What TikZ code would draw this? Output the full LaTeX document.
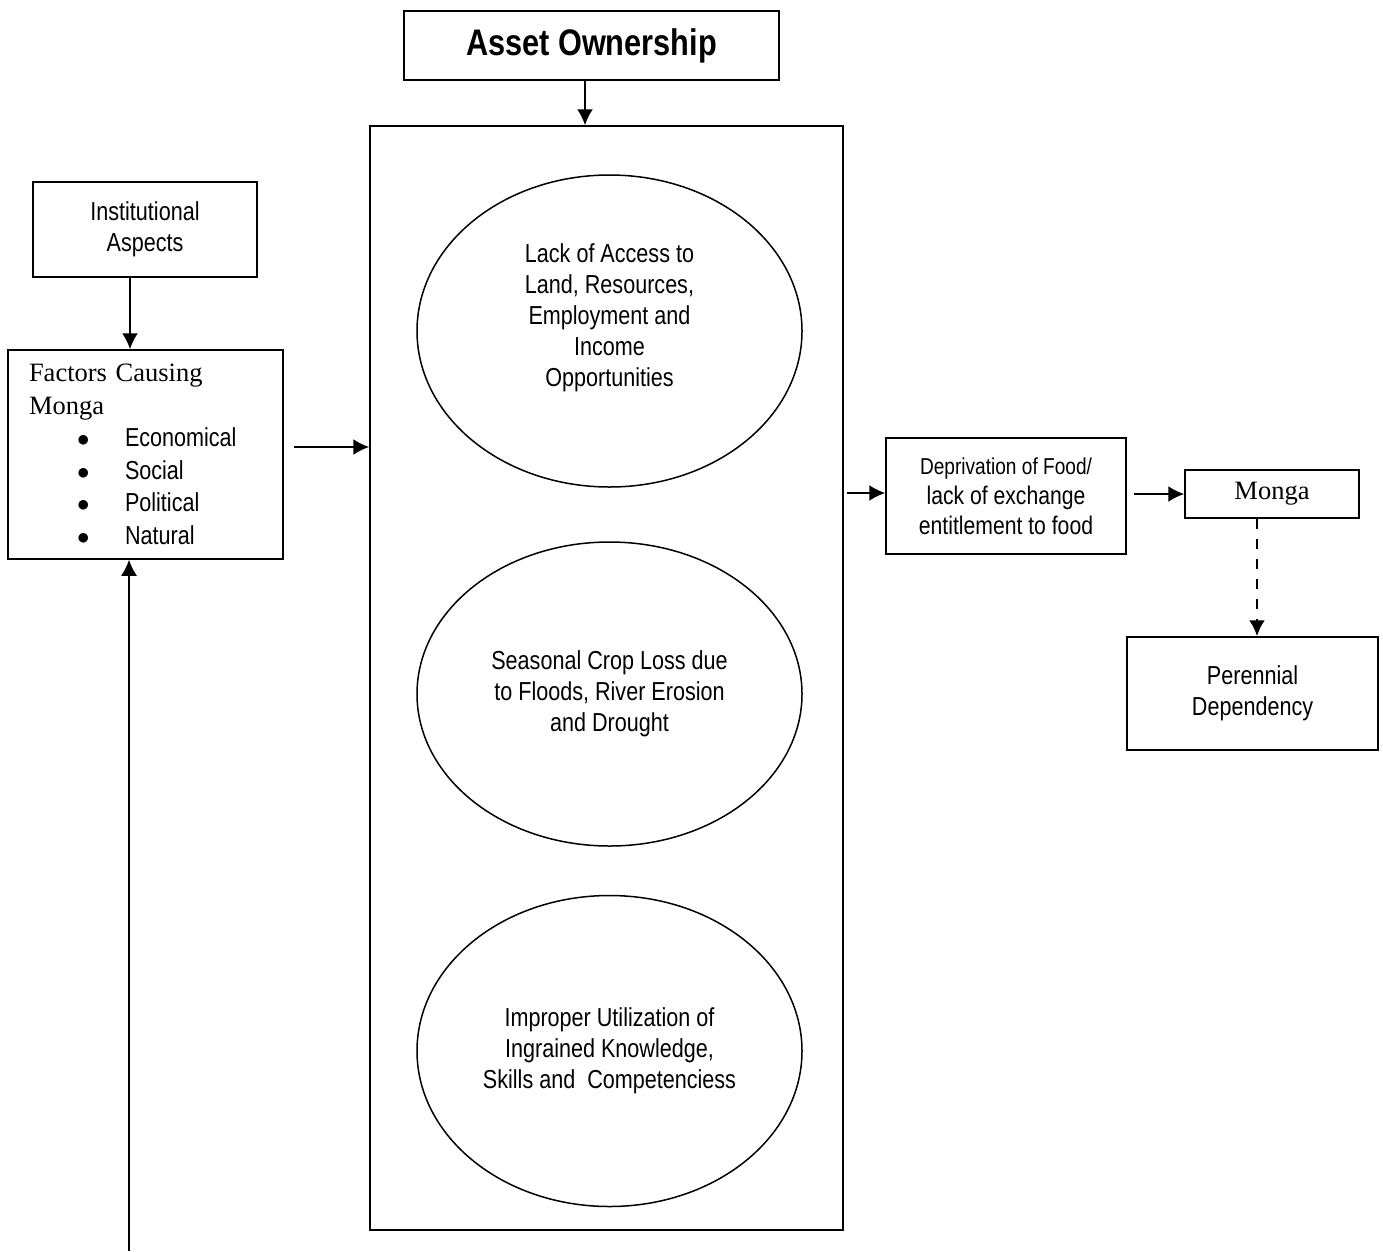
\documentclass[tikz,border=0pt]{standalone}
\usepackage{fontspec}
\setmainfont{Liberation Serif}
\newfontfamily\narrowsans[FakeStretch=0.83]{Liberation Sans}
\usetikzlibrary{shapes,arrows,positioning,calc,arrows.meta}

\begin{document}
\begin{tikzpicture}[x=1pt, y=-1pt, >={Latex[length=16pt,width=16pt]}, line width=1.5pt,
    box/.style={draw, rectangle, inner sep=0pt, align=center, font=\narrowsans\fontsize{26}{31}\selectfont},
    oval/.style={draw, ellipse, inner sep=0pt, minimum width=385pt, align=center, font=\narrowsans\fontsize{26}{31}\selectfont},
    link/.style={->, line width=2pt}]
    \useasboundingbox (0,0) rectangle (1383,1251);

    \node[box, minimum width=375pt, minimum height=69pt, font=\narrowsans\bfseries\fontsize{37}{40}\selectfont] (asset) at (591.5,45.5) {Asset Ownership};
    \node[draw, minimum width=473pt, minimum height=1104pt] (hold) at (606.5,678) {};
    \node[oval, minimum height=312pt] (access) at (609.5,331) {Lack of Access to\\Land, Resources,\\Employment and\\Income\\Opportunities\\\mbox{}};
    \node[oval, minimum height=304pt] (crop) at (609.5,694) {Seasonal Crop Loss due\\to Floods, River Erosion\\and Drought};
    \node[oval, minimum height=311pt] (skill) at (609.5,1051) {Improper Utilization of\\Ingrained Knowledge,\\Skills and\ \ Competenciess};

    \node[box, minimum width=224pt, minimum height=95pt] (inst) at (145,229.5) {Institutional\\Aspects};
    \node[box, minimum width=275pt, minimum height=209pt, inner xsep=21pt, text width=233pt, align=left, font=\narrowsans\fontsize{26}{32.5}\selectfont] (factors) at (145.5,454.5)
        {{\rmfamily\fontsize{26.5}{32.5}\selectfont Factors Causing\\Monga}\\
         \hspace*{48pt}\makebox[48pt][l]{$\bullet$}Economical\\
         \hspace*{48pt}\makebox[48pt][l]{$\bullet$}Social\\
         \hspace*{48pt}\makebox[48pt][l]{$\bullet$}Political\\
         \hspace*{48pt}\makebox[48pt][l]{$\bullet$}Natural};

    \node[box, minimum width=240pt, minimum height=116pt, font=\narrowsans\fontsize{25.5}{30}\selectfont] (depr) at (1006,496)
        {{\fontsize{23}{30}\selectfont Deprivation of Food/}\\lack of exchange\\entitlement to food};
    \node[box, minimum width=174pt, minimum height=48pt, font=\rmfamily\fontsize{26.5}{30}\selectfont] (monga) at (1272,494) {Monga};
    \node[box, minimum width=251pt, minimum height=113pt] (peren) at (1252.5,693.5) {Perennial\\Dependency};

    \coordinate (fbase) at (129,1251);
    \coordinate (pbase) at (1257,1251);

    \draw[link] ([xshift=-6.5pt]asset.south) -- ([xshift=-6.5pt]asset.south |- hold.north);
    \draw[link] ([xshift=-15pt]inst.south) -- ([xshift=-15pt]inst.south |- factors.north);
    \draw[link] ($(factors.east)+(10pt,7.5pt)$) -- ($(factors.east -| hold.west)+(0,7.5pt)$);
    \draw[link] ($(hold.east |- depr.west)+(3pt,3pt)$) -- ($(depr.west)+(0,3pt)$);
    \draw[link] ($(depr.east |- monga.west)+(7pt,0)$) -- (monga.west);
    \draw[link, line width=2.5pt, dash pattern=on 10pt off 10pt] ($(peren.north |- monga.south)+(4.5pt,0)$) -- ($(peren.north)+(4.5pt,0)$);
    \draw[line width=1.5pt] ($(peren.south)+(4.5pt,0)$) -- ($(peren.south)+(4.5pt,0)$ |- pbase);
    \draw[link, line width=1.5pt] (fbase) -- (fbase |- factors.south);
\end{tikzpicture}
\end{document}
